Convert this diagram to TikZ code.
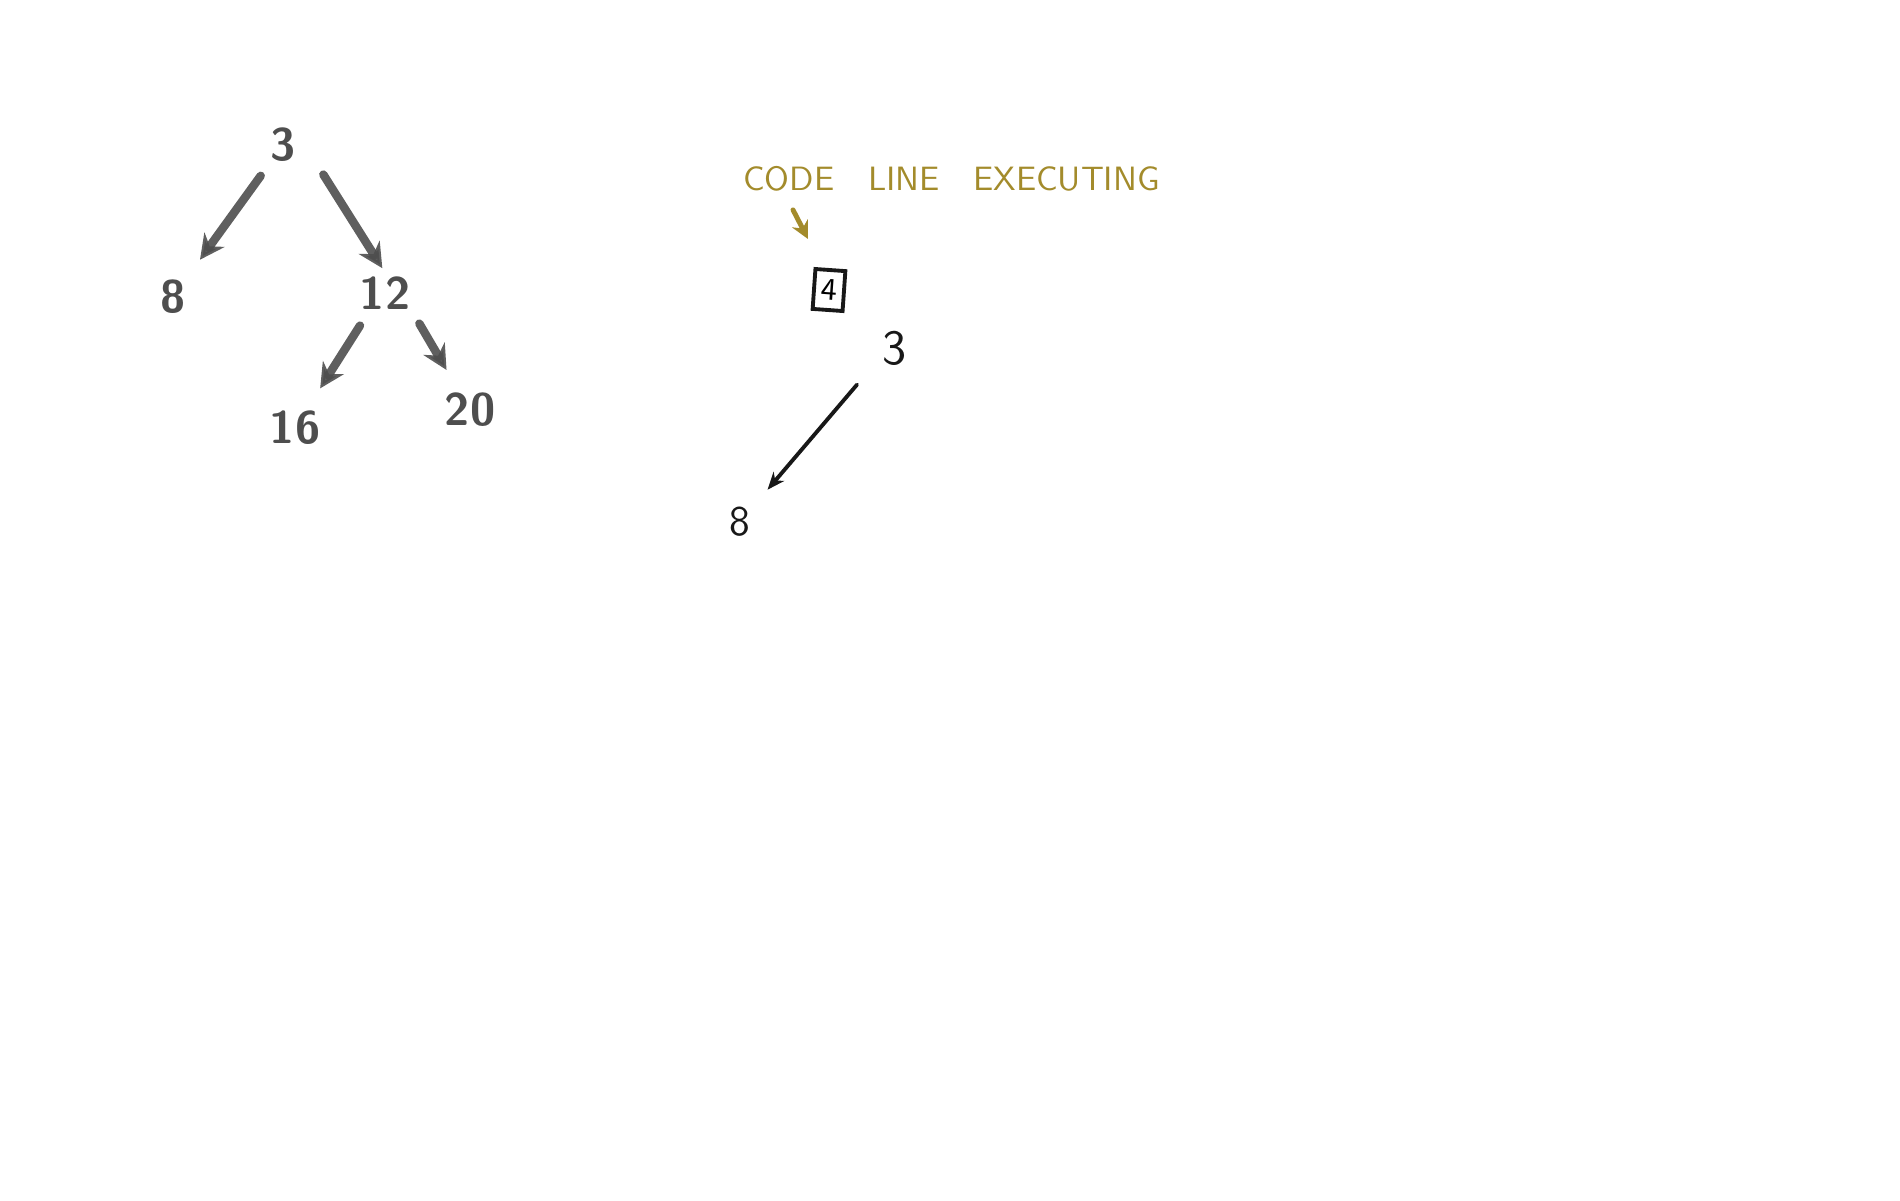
\documentclass[tikz,border=0pt]{standalone}
\usepackage{tikz}
\usetikzlibrary{positioning,arrows.meta,calc}
\usepackage{xcolor}
\definecolor{inkgold}{RGB}{163,139,43}
\definecolor{inkdark}{RGB}{24,24,24}
\definecolor{inkblur}{RGB}{78,78,78}

\begin{document}
\begin{tikzpicture}[>=Stealth,
    blurnode/.style={inkblur, font=\sffamily\bfseries\fontsize{13}{13}\selectfont, inner sep=1pt},
    blurarrow/.style={-{Stealth[length=7pt, width=7pt]}, inkblur, line width=2.4pt, line cap=round, opacity=0.9},
    inknode/.style={inkdark, font=\sffamily\fontsize{14}{14}\selectfont, inner sep=1pt},
    inkarrow/.style={-{Stealth[length=5pt, width=4pt]}, inkdark, line width=1.1pt, line cap=round}]
    \useasboundingbox (0, 0) rectangle (19, -12);

    % Blurred tree on the left
    \node[blurnode] (t3)  at (2.83, -1.45) {3};
    \node[blurnode] (t8)  at (1.73, -2.97) {8};
    \node[blurnode] (t12) at (3.85, -2.93) {12};
    \node[blurnode] (t16) at (2.95, -4.28) {16};
    \node[blurnode] (t20) at (4.70, -4.10) {20};
    \draw[blurarrow, shorten <=0.12cm, shorten >=0.2cm] (t3) -- (t8);
    \draw[blurarrow, shorten <=0.1cm, shorten >=0.05cm] ([xshift=0.35cm]t3.south) -- (t12.north);
    \draw[blurarrow, shorten >=0.22cm] ([xshift=-0.25cm, yshift=-0.12cm]t12.south) -- (t16);
    \draw[blurarrow, shorten >=0.22cm] ([shift={(0.05,-0.1)}]t12.south east) -- (t20);

    % Current line label
    \node[inkgold, anchor=west, font=\sffamily\fontsize{9.6}{10}\selectfont] (lbl) at (7.31, -1.79)
        {CODE\ \ \ LINE\ \ \ EXECUTING};
    \node[draw=inkdark, line width=1.1pt, rotate=-4, minimum width=0.3cm, minimum height=0.4cm,
        inner sep=0pt, font=\sffamily\fontsize{9}{9}\selectfont] (box) at (8.29, -2.90) {4};
    \coordinate (lbltip) at (8.08, -2.39);
    \draw[-{Stealth[length=5pt, width=5pt]}, inkgold, line width=1.4pt, line cap=round]
        ([xshift=0.62cm, yshift=-0.06cm]lbl.south west) -- (lbltip);

    % Tree being built
    \node[inknode] (r3) at (8.95, -3.48) {3};
    \node[inknode, font=\sffamily\fontsize{12}{12}\selectfont] (r8) at (7.40, -5.22) {8};
    \draw[inkarrow, shorten <=0.2cm, shorten >=0.2cm] ([xshift=-0.25cm]r3.south) -- (r8);
\end{tikzpicture}
\end{document}
